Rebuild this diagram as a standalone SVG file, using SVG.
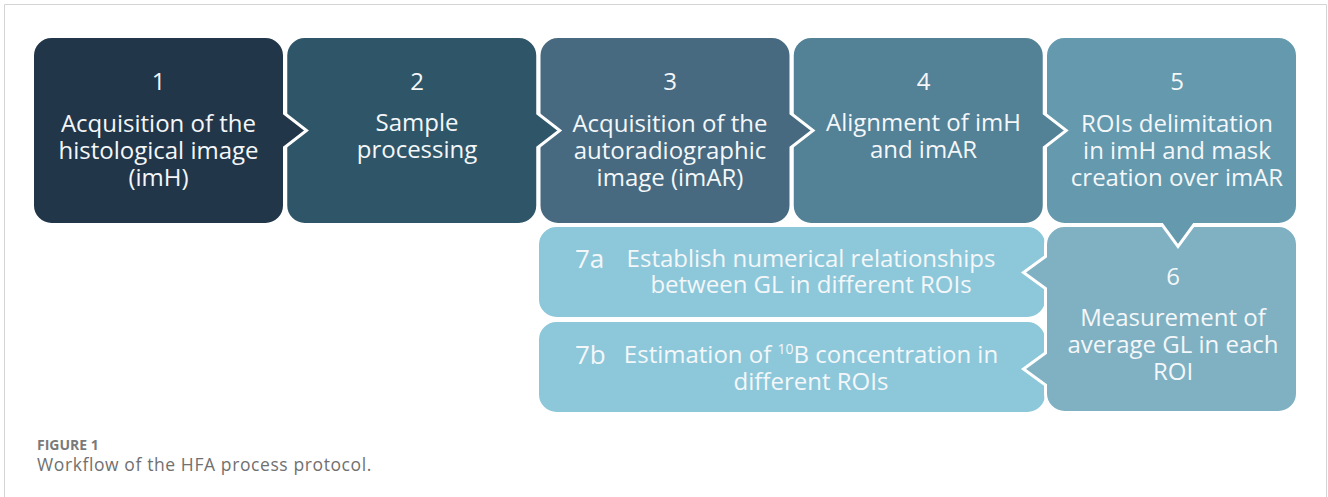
<svg xmlns="http://www.w3.org/2000/svg" width="1328" height="497" viewBox="0 0 1328 497">
<style>
.box{stroke:#ffffff;stroke-width:3;stroke-linejoin:miter}
.t{font-family:"Open Sans","Noto Sans",sans-serif;font-size:24px;fill:#f4f7f9;text-anchor:middle}
.lab{font-family:"Open Sans","Noto Sans",sans-serif;font-size:26px;fill:#f4f7f9}
.cap1{font-family:"Open Sans","Noto Sans",sans-serif;font-size:14px;font-weight:bold;fill:#7a7a7a}
.cap2{font-family:"Open Sans","Noto Sans",sans-serif;font-size:17.5px;letter-spacing:0.6px;fill:#707070}
</style>
<rect width="1328" height="497" fill="#ffffff"/>
<path d="M4.5,497 V4.5 H1326.5 V497" fill="none" stroke="#d4d4d4" stroke-width="1"/>
<g id="connectors"/>
<g id="node7a">
<rect class="box" x="537.5" y="225.5" width="509" height="93" rx="19" fill="#8dc8da"/>
<text class="lab" x="575" y="268">7a</text>
<text class="t"><tspan x="811" y="267">Establish numerical relationships</tspan><tspan x="811" y="293">between GL in different ROIs</tspan></text>
</g>
<g id="node7b">
<rect class="box" x="537.5" y="320.5" width="509" height="93" rx="19" fill="#8dc8da"/>
<text class="lab" x="575" y="364">7b</text>
<text class="t"><tspan x="811" y="363">Estimation of </tspan><tspan font-size="14" dy="-9">10</tspan><tspan dy="9">B concentration in</tspan><tspan x="811" y="390">different ROIs</tspan></text>
</g>
<g id="node6">
<path class="box" fill="#7fb1c3" d="M1064.5,225.5 H1278.5 A19,19 0 0 1 1297.5,244.5 V393.5 A19,19 0 0 1 1278.5,412.5 H1064.5 A19,19 0 0 1 1045.5,393.5 V385 L1023.5,369 L1045.5,353 V288.5 L1023.5,272.5 L1045.5,256.5 V244.5 A19,19 0 0 1 1064.5,225.5 Z"/>
<text class="t" x="1173" y="285">6</text>
<text class="t"><tspan x="1173" y="326">Measurement of</tspan><tspan x="1173" y="353">average GL in each</tspan><tspan x="1173" y="380">ROI</tspan></text>
</g>
<g id="node5">
<path class="box" fill="#6499ae" d="M1064.5,36.5 H1278.5 A19,19 0 0 1 1297.5,55.5 V205.5 A19,19 0 0 1 1278.5,224.5 H1194 L1178,246.5 L1162,224.5 H1064.5 A19,19 0 0 1 1045.5,205.5 V55.5 A19,19 0 0 1 1064.5,36.5 Z"/>
<text class="t" x="1177" y="90">5</text>
<text class="t"><tspan x="1177" y="132">ROIs delimitation</tspan><tspan x="1177" y="159">in imH and mask</tspan><tspan x="1177" y="186">creation over imAR</tspan></text>
</g>
<g id="node4">
<path class="box" fill="#538196" d="M811.25,36.5 H1025.25 A19,19 0 0 1 1044.25,55.5 V113.5 L1066.25,130.5 L1044.25,147.5 V205.5 A19,19 0 0 1 1025.25,224.5 H811.25 A19,19 0 0 1 792.25,205.5 V55.5 A19,19 0 0 1 811.25,36.5 Z"/>
<text class="t" x="923.5" y="90">4</text>
<text class="t"><tspan x="923.5" y="131">Alignment of imH</tspan><tspan x="923.5" y="158">and imAR</tspan></text>
</g>
<g id="node3">
<path class="box" fill="#476a80" d="M558,36.5 H772 A19,19 0 0 1 791,55.5 V113.5 L813,130.5 L791,147.5 V205.5 A19,19 0 0 1 772,224.5 H558 A19,19 0 0 1 539,205.5 V55.5 A19,19 0 0 1 558,36.5 Z"/>
<text class="t" x="670" y="90">3</text>
<text class="t"><tspan x="670" y="132">Acquisition of the</tspan><tspan x="670" y="159">autoradiographic</tspan><tspan x="670" y="186">image (imAR)</tspan></text>
</g>
<g id="node2">
<path class="box" fill="#2e5668" d="M304.75,36.5 H518.75 A19,19 0 0 1 537.75,55.5 V113.5 L559.75,130.5 L537.75,147.5 V205.5 A19,19 0 0 1 518.75,224.5 H304.75 A19,19 0 0 1 285.75,205.5 V55.5 A19,19 0 0 1 304.75,36.5 Z"/>
<text class="t" x="417" y="90">2</text>
<text class="t"><tspan x="417" y="131">Sample</tspan><tspan x="417" y="158">processing</tspan></text>
</g>
<g id="node1">
<path class="box" fill="#22364a" d="M51.5,36.5 H265.5 A19,19 0 0 1 284.5,55.5 V113.5 L306.5,130.5 L284.5,147.5 V205.5 A19,19 0 0 1 265.5,224.5 H51.5 A19,19 0 0 1 32.5,205.5 V55.5 A19,19 0 0 1 51.5,36.5 Z"/>
<text class="t" x="158.5" y="90">1</text>
<text class="t"><tspan x="158.5" y="132">Acquisition of the</tspan><tspan x="158.5" y="159">histological image</tspan><tspan x="158.5" y="186">(imH)</tspan></text>
</g>
<g id="caption">
<text class="cap1" x="37" y="450">FIGURE 1</text>
<text class="cap2" x="37" y="471">Workflow of the HFA process protocol.</text>
</g>
</svg>
